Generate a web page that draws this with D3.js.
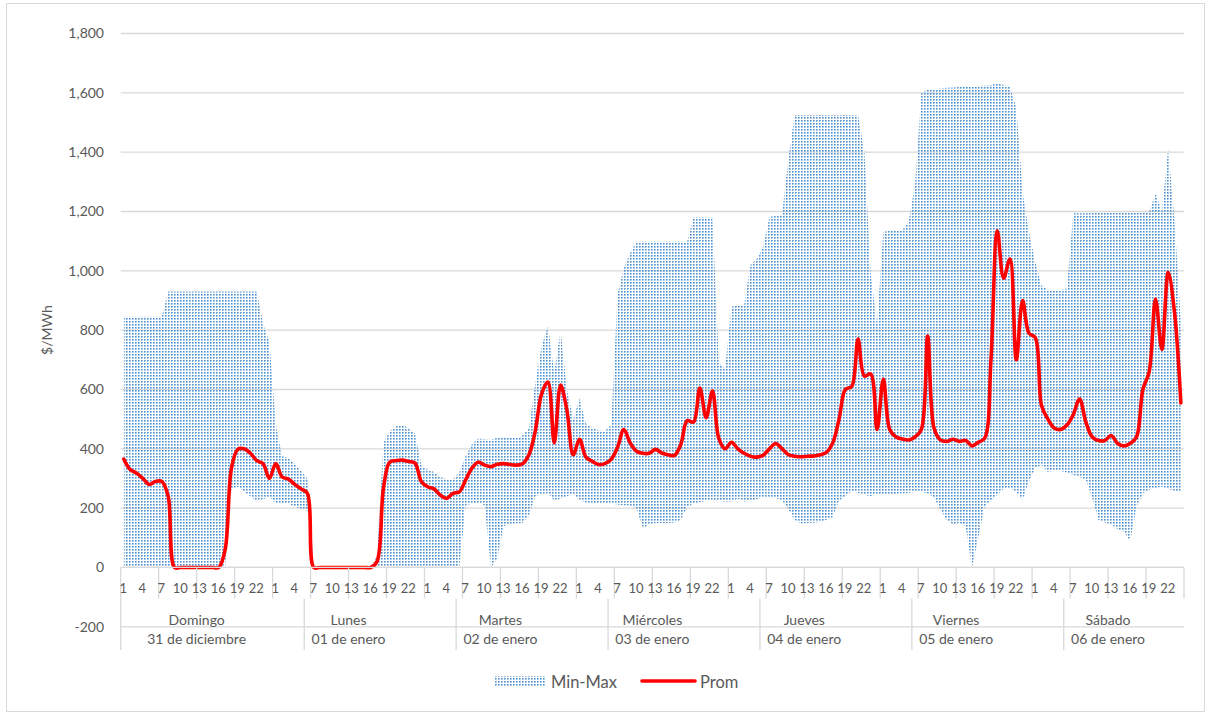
<!DOCTYPE html>
<html><head><meta charset="utf-8">
<script src="https://cdn.jsdelivr.net/npm/d3@7"></script>
<style>
body{margin:0;background:#fff;}
svg text{font-family:Lato,'Noto Sans',sans-serif;fill:#595959;}
</style></head><body>
<svg id="c" width="1211" height="715"></svg>
<script>
// ---------- DATA ----------
const hoursOfDay = ["1","2","3","4","5","6","7","8","9","10","11","12","13","14","15","16","17","18","19","20","21","22","23","24"];
const dayNames = ["Domingo","Lunes","Martes","Miércoles","Jueves","Viernes","Sábado"];
const dayDates = ["31 de diciembre","01 de enero","02 de enero","03 de enero","04 de enero","05 de enero","06 de enero"];
// spans (in hours) of the outer category groups as drawn on the axis
const groupSpans = [29,24,24,24,24,24,19];
const yTicks = [-200,0,200,400,600,800,1000,1200,1400,1600,1800];

const promVals = [
 365,330,318,300,280,290,290,240,0,0,0,0,0,0,0,0,60,335,398,400,385,360,350,300,
 350,305,298,280,265,250,0,0,0,0,0,0,0,0,0,0,20,265,355,360,362,357,352,290,
 272,265,244,233,250,255,295,335,355,345,340,348,350,347,345,350,380,460,585,625,420,615,530,380,
 432,372,358,347,350,365,405,465,420,392,385,385,398,386,380,378,415,495,490,605,505,595,435,400,
 422,400,385,375,372,378,400,418,400,380,375,373,375,376,380,388,420,500,600,610,770,645,652,465,
 635,465,440,433,430,440,465,780,470,430,425,432,425,428,410,422,435,700,1135,975,1040,700,900,790,
 775,545,500,470,465,480,515,568,490,440,428,428,445,418,410,418,440,600,660,905,735,995,860,555
];
const maxVals = [
 845,845,845,845,845,845,845,930,930,930,930,930,930,930,930,930,930,930,930,930,930,930,820,760,
 480,375,370,350,325,300,0,0,0,0,0,0,0,0,0,0,40,420,460,475,480,470,452,345,
 330,322,305,298,298,320,375,415,435,432,430,438,440,437,436,445,470,620,745,815,655,800,600,500,
 570,485,470,462,460,480,920,1010,1060,1098,1098,1098,1098,1098,1098,1098,1098,1098,1180,1180,1180,1180,690,670,
 880,882,885,1020,1040,1080,1182,1185,1190,1380,1525,1525,1525,1525,1525,1525,1525,1525,1525,1525,1525,1400,990,820,
 1132,1135,1135,1138,1165,1290,1600,1610,1612,1615,1617,1618,1620,1620,1622,1624,1625,1626,1632,1626,1620,1550,1265,1130,
 1030,950,935,935,935,940,1194,1194,1194,1195,1195,1195,1196,1196,1196,1196,1196,1196,1200,1260,1200,1410,1170,830
];
const minVals = [
 0,0,0,0,0,0,0,0,0,0,0,0,0,0,0,0,0,265,272,255,240,222,230,238,
 216,215,215,205,198,192,0,0,0,0,0,0,0,0,0,0,0,0,0,0,0,0,0,0,
 0,0,0,0,0,0,210,215,218,210,0,30,140,145,148,150,175,240,248,250,225,232,240,248,
 228,218,215,215,215,216,212,210,208,200,132,145,150,150,150,152,160,205,216,220,225,228,225,222,
 222,232,222,225,230,238,236,234,225,195,160,148,150,151,153,160,170,225,240,258,252,245,240,248,
 245,244,248,250,252,254,255,250,235,195,160,145,150,140,0,100,205,225,245,265,268,255,228,290,
 335,345,322,328,325,320,312,305,295,235,160,152,145,130,120,88,205,250,262,268,272,265,258,255
];

// ---------- CHART ----------
const svg = d3.select("#c");
const N = promVals.length;
const cats = d3.range(N);
const hourCats = cats.map(i => hoursOfDay[i % 24]);

const x = d3.scaleBand().domain(cats).range([120.7, 1184]).paddingInner(0).paddingOuter(0);
const bw = x.bandwidth();
const cx = i => x(i) + bw / 2;
const y = d3.scaleLinear().domain([-200, 1800]).range([626.8, 33.5]);

// outer border
svg.append("rect").attr("x", 6.5).attr("y", 3.5).attr("width", 1198).attr("height", 708)
  .attr("fill", "none").attr("stroke", "#d9d9d9").attr("stroke-width", 1);

// pattern
const defs = svg.append("defs");
const pat = defs.append("pattern").attr("id", "dots").attr("patternUnits", "userSpaceOnUse")
  .attr("width", 3).attr("height", 3);
pat.append("rect").attr("x", 0).attr("y", 0).attr("width", 1.6).attr("height", 1.6).attr("fill", "#4a8fd0");

// gridlines
svg.append("g").selectAll("line").data(yTicks).join("line")
  .attr("x1", 120.7).attr("x2", 1184)
  .attr("y1", d => y(d)).attr("y2", d => y(d))
  .attr("stroke", "#d9d9d9").attr("stroke-width", 1.3);

// y labels
const fmt = d3.format(",");
svg.append("g").selectAll("text").data(yTicks).join("text")
  .attr("x", 104).attr("y", d => y(d)).attr("dy", "0.35em")
  .attr("text-anchor", "end").attr("font-size", 14)
  .text(d => fmt(d).replace("\u2212", "-"));

// y title
svg.append("text").attr("transform", `translate(52,${(y(1800) + y(-200)) / 2}) rotate(-90)`)
  .attr("text-anchor", "middle").attr("font-size", 14).text("$/MWh");

// area
const area = d3.area().x((d, i) => cx(i)).y0((d, i) => y(minVals[i])).y1((d, i) => y(maxVals[i]));
svg.append("path").datum(maxVals).attr("d", area).attr("fill", "url(#dots)");

// line
const line = d3.line().x((d, i) => cx(i)).y(d => y(d)).curve(d3.curveCatmullRom.alpha(0.5));
svg.append("path").datum(promVals).attr("d", line).attr("fill", "none")
  .attr("stroke", "#ff0000").attr("stroke-width", 3.6).attr("stroke-linejoin", "round").attr("stroke-linecap", "round");

// category axis
const y0 = y(0);
const ax = svg.append("g").attr("stroke", "#d9d9d9").attr("stroke-width", 1.3);
ax.append("line").attr("x1", 120.7).attr("x2", 1184).attr("y1", y0).attr("y2", y0);
const tickIdx = d3.range(0, N + 1, 6);
ax.selectAll(".tk").data(tickIdx).join("line")
  .attr("x1", i => i < N ? x(i) : x(N - 1) + bw).attr("x2", i => i < N ? x(i) : x(N - 1) + bw)
  .attr("y1", y0).attr("y2", y0 + 31);
// group separators
const starts = [0];
groupSpans.forEach((s, k) => { if (k < groupSpans.length - 1) starts.push(starts[k] + s); });
ax.selectAll(".gs").data(starts).join("line")
  .attr("x1", i => x(i)).attr("x2", i => x(i))
  .attr("y1", y0 + 31).attr("y2", 650);

// hour labels
svg.append("g").selectAll("text").data(cats.filter(i => i % 3 === 0)).join("text")
  .attr("x", i => cx(i) - 0.5).attr("y", 588).attr("dy", "0.35em")
  .attr("text-anchor", "middle").attr("font-size", 13)
  .text(i => hourCats[i]);

// day labels (centred on each day's own 24 hours)
const dayCenter = d => x(d * 24 + 12);
svg.append("g").selectAll("text").data(dayNames).join("text")
  .attr("x", (d, k) => dayCenter(k)).attr("y", 620).attr("dy", "0.35em")
  .attr("text-anchor", "middle").attr("font-size", 14).text(d => d);
svg.append("g").selectAll("text").data(dayDates).join("text")
  .attr("x", (d, k) => dayCenter(k)).attr("y", 639).attr("dy", "0.35em")
  .attr("text-anchor", "middle").attr("font-size", 14).text(d => d);

// legend
const lg = svg.append("g");
lg.append("rect").attr("x", 495).attr("y", 676).attr("width", 50).attr("height", 11).attr("fill", "url(#dots)");
lg.append("text").attr("x", 551).attr("y", 682).attr("dy", "0.35em").attr("font-size", 16.5).text("Min-Max");
lg.append("line").attr("x1", 642).attr("x2", 695).attr("y1", 681).attr("y2", 681)
  .attr("stroke", "#ff0000").attr("stroke-width", 3.6).attr("stroke-linecap", "round");
lg.append("text").attr("x", 700).attr("y", 682).attr("dy", "0.35em").attr("font-size", 16.5).text("Prom");
</script>
</body></html>
